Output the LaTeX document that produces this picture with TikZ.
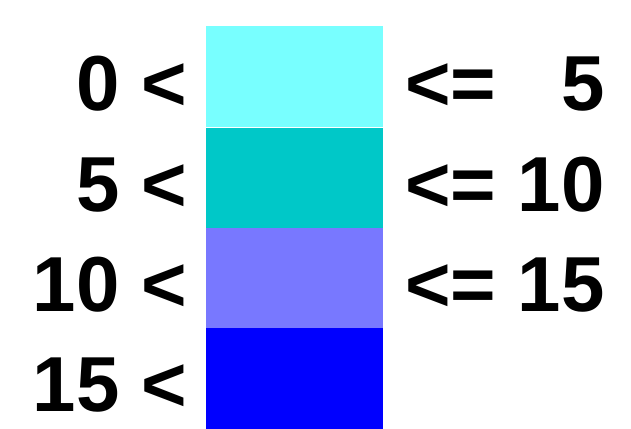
\documentclass[tikz,border=0pt]{standalone}
\usepackage{fontspec}
\setmainfont{Liberation Sans}
\definecolor{c1}{RGB}{120,255,255}
\definecolor{c2}{RGB}{0,200,200}
\definecolor{c3}{RGB}{120,120,255}
\definecolor{c4}{RGB}{0,0,255}
\begin{document}
\begin{tikzpicture}[x=1pt,y=-1pt,
  band/.style={rectangle,inner sep=0pt,minimum width=177pt,minimum height=100.5pt,anchor=north west},
  lab/.style={inner sep=0pt,font=\fontsize{78}{94}\selectfont\bfseries}]
\useasboundingbox (0,0) rectangle (631,428);
\node[band,fill=c1] (b1) at (206,26) {};
\node[band,fill=c2] (b2) at (206,127.5) {};
\node[band,fill=c3] (b3) at (206,228) {};
\node[band,fill=c4] (b4) at (206,328) {};
\node[lab,anchor=base east] (l1) at (187,110) {0 <};
\node[lab,anchor=base east] (l2) at (187,211) {5 <};
\node[lab,anchor=base east] (l3) at (187,311) {10 <};
\node[lab,anchor=base east] (l4) at (187,411) {15 <};
\node[lab,anchor=base west] (r1) at (405,110) {<= \phantom{1}5};
\node[lab,anchor=base west] (r2) at (405,211) {<= 10};
\node[lab,anchor=base west] (r3) at (405,311) {<= 15};
\end{tikzpicture}
\end{document}
